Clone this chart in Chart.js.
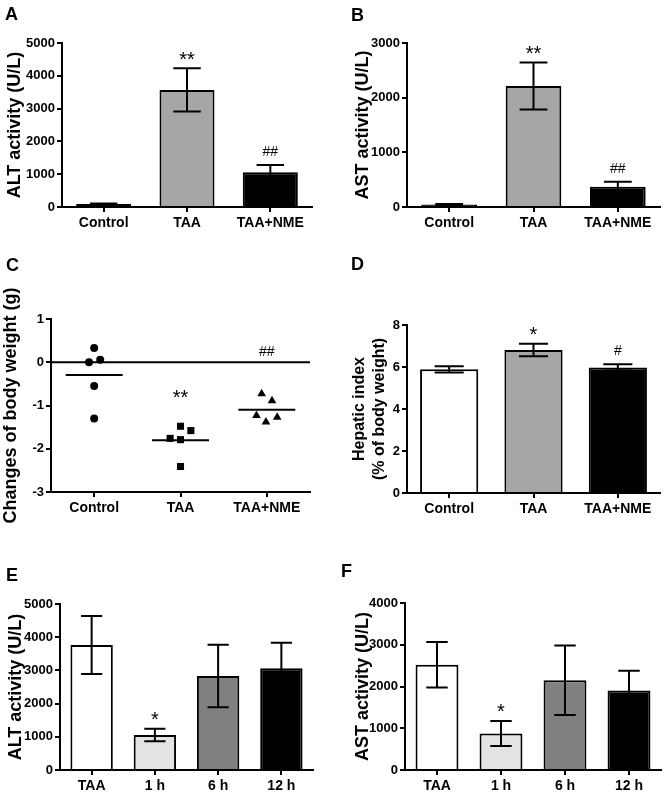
<!DOCTYPE html>
<html>
<head>
<meta charset="utf-8">
<script src="https://cdn.jsdelivr.net/npm/chart.js@4.4.1/dist/chart.umd.min.js"></script>
<style>
  body { margin: 0; background: #fff; width: 670px; height: 793px; position: relative; overflow: hidden; }
  canvas { position: absolute; }
  .tag { position: absolute; font: bold 18px "Liberation Sans", Arial, sans-serif; line-height: 18px; color: #000; }
</style>
</head>
<body>
<canvas id="cA" width="335" height="265" style="left:0;top:0"></canvas>
<canvas id="cB" width="335" height="265" style="left:335px;top:0"></canvas>
<canvas id="cC" width="335" height="265" style="left:0;top:265px"></canvas>
<canvas id="cD" width="335" height="265" style="left:335px;top:265px"></canvas>
<canvas id="cE" width="335" height="263" style="left:0;top:530px"></canvas>
<canvas id="cF" width="335" height="263" style="left:335px;top:530px"></canvas>
<div class="tag" style="left:5px;top:5px">A</div>
<div class="tag" style="left:351px;top:6px">B</div>
<div class="tag" style="left:6px;top:256px">C</div>
<div class="tag" style="left:351px;top:255px">D</div>
<div class="tag" style="left:6px;top:566px">E</div>
<div class="tag" style="left:341px;top:562px">F</div>
<script>
// ---- data ----
const groups = ['Control', 'TAA', 'TAA+NME'];
const times = ['TAA', '1 h', '6 h', '12 h'];

const altMean = [90, 3570, 1057];
const altSem  = [20, 660, 225];
const altSig  = ['', '**', '##'];

const astMean = [45, 2215, 371];
const astSem  = [10, 430, 92];
const astSig  = ['', '**', '##'];

// body weight change, one point per animal (x = group index + small jitter)
const bwControl = [{x: 1, y: 0.33}, {x: 0.94, y: 0.0}, {x: 1.07, y: 0.06}, {x: 1, y: -0.55}, {x: 1, y: -1.30}];
const bwTAA     = [{x: 2, y: -1.48}, {x: 2.12, y: -1.58}, {x: 1.88, y: -1.76}, {x: 2, y: -1.79}, {x: 2, y: -2.41}];
const bwNME     = [{x: 2.94, y: -0.73}, {x: 3.06, y: -0.89}, {x: 2.88, y: -1.23}, {x: 2.99, y: -1.38}, {x: 3.12, y: -1.27}];
const bwSig     = ['', '**', '##'];
const bwSigY    = [null, -0.71, 0.27];

const hepMean = [5.89, 6.81, 5.98];
const hepSem  = [0.15, 0.30, 0.15];
const hepSig  = ['', '*', '#'];

const altTimeMean = [3765, 1054, 2831, 3062];
const altTimeSem  = [873, 191, 938, 773];
const astTimeMean = [2520, 876, 2152, 1904];
const astTimeSem  = [544, 300, 832, 472];
const timeSig     = ['', '*', '', ''];

const FONT = '"Liberation Sans", Arial, sans-serif';
Chart.defaults.font.family = FONT;
Chart.defaults.color = '#000';

// draw a significance mark so that its glyph is centred on cy
function drawSig(ctx, s, x, cy) {
  ctx.textAlign = 'center';
  ctx.textBaseline = 'alphabetic';
  if (s.indexOf('*') >= 0) { ctx.font = '20px ' + FONT; ctx.fillText(s, x, cy + 11.5); }
  else { ctx.font = '14px ' + FONT; ctx.fillText(s, x, cy + 5); }
}

const errBars = {
  id: 'errbars',
  afterDatasetsDraw(chart, args, o) {
    if (!o || !o.sem) return;
    const ctx = chart.ctx, ys = chart.scales.y;
    const vals = chart.data.datasets[0].data;
    ctx.save();
    ctx.strokeStyle = '#000'; ctx.fillStyle = '#000'; ctx.lineWidth = 2;
    chart.getDatasetMeta(0).data.forEach((bar, i) => {
      const top = ys.getPixelForValue(vals[i] + o.sem[i]);
      const bot = ys.getPixelForValue(vals[i] - o.sem[i]);
      const half = bar.width * o.cap / 2;
      ctx.beginPath();
      ctx.moveTo(bar.x, top); ctx.lineTo(bar.x, bot);
      ctx.moveTo(bar.x - half, top); ctx.lineTo(bar.x + half, top);
      ctx.moveTo(bar.x - half, bot); ctx.lineTo(bar.x + half, bot);
      ctx.stroke();
      if (o.sig && o.sig[i]) drawSig(ctx, o.sig[i], bar.x, top - 14);
    });
    ctx.restore();
  }
};

const zeroLine = {
  id: 'zeroline',
  beforeDatasetsDraw(chart, args, o) {
    if (!o || !o.on) return;
    const {ctx, chartArea, scales} = chart;
    const y = scales.y.getPixelForValue(0);
    ctx.save();
    ctx.strokeStyle = '#000'; ctx.lineWidth = 2;
    ctx.beginPath(); ctx.moveTo(chartArea.left, y); ctx.lineTo(chartArea.right, y); ctx.stroke();
    ctx.fillStyle = '#000';
    o.sig.forEach((s, i) => {
      if (s) drawSig(ctx, s, scales.x.getPixelForValue(i + 1), scales.y.getPixelForValue(o.sigY[i]));
    });
    ctx.restore();
  }
};
Chart.register(errBars, zeroLine);

function axisY(min, max, step, title, width, pad, size, lh) {
  return {
    min, max,
    ticks: { stepSize: step, padding: 2, font: { size: 13, weight: 'bold' }, color: '#000', callback: v => String(v) },
    grid: { display: true, drawOnChartArea: false, drawTicks: true, tickLength: 5, color: '#000', lineWidth: 2 },
    border: { display: true, color: '#000', width: 2 },
    title: { display: true, text: title, color: '#000',
             font: { size: size || 18, weight: 'bold', lineHeight: lh || 1.2 }, padding: { top: pad, bottom: 0 } },
    afterFit: s => { s.width = width; }
  };
}

function axisX(height) {
  return {
    ticks: { padding: 3, font: { size: 14, weight: 'bold' }, color: '#000', maxRotation: 0, autoSkip: false },
    grid: { display: true, offset: false, drawOnChartArea: false, drawTicks: true, tickLength: 5, color: '#000', lineWidth: 2 },
    border: { display: true, color: '#000', width: 2 },
    afterFit: s => { s.height = height; }
  };
}

function barChart(id, labels, mean, sem, sig, colors, pct, y, pad, xh) {
  return new Chart(document.getElementById(id), {
    type: 'bar',
    data: { labels, datasets: [{ data: mean, backgroundColor: colors, borderColor: '#000', borderWidth: 2,
                                 borderSkipped: 'start', barPercentage: 1, categoryPercentage: pct }] },
    options: {
      responsive: false, animation: false, events: [],
      layout: { padding: pad },
      plugins: { legend: { display: false }, tooltip: { enabled: false }, errbars: { sem, sig, cap: 0.5 } },
      scales: { x: axisX(xh), y }
    }
  });
}

const grey3 = ['#ffffff', '#a6a6a6', '#000000'];
const dark3 = ['#000000', '#a6a6a6', '#000000'];
const grey4 = ['#ffffff', '#e3e3e3', '#808080', '#000000'];

barChart('cA', groups, altMean, altSem, altSig, dark3, 0.66,
  axisY(0, 5000, 1000, 'ALT activity (U/L)', 62, 4), { left: 0, top: 43, right: 23, bottom: 0 }, 58);
barChart('cB', groups, astMean, astSem, astSig, dark3, 0.66,
  axisY(0, 3000, 1000, 'AST activity (U/L)', 72, 17), { left: 0, top: 43, right: 10, bottom: 0 }, 58);
barChart('cD', groups, hepMean, hepSem, hepSig, grey3, 0.69,
  axisY(0, 8, 2, ['Hepatic index', '(% of body weight)'], 72, 15, 16, 1.25), { left: 0, top: 60, right: 10, bottom: 0 }, 37);
barChart('cE', times, altTimeMean, altTimeSem, timeSig, grey4, 0.67,
  axisY(0, 5000, 1000, 'ALT activity (U/L)', 60, 5), { left: 0, top: 74, right: 22, bottom: 0 }, 23);
barChart('cF', times, astTimeMean, astTimeSem, timeSig, grey4, 0.67,
  axisY(0, 4000, 1000, 'AST activity (U/L)', 70, 17), { left: 0, top: 73, right: 9, bottom: 0 }, 23);

// panel C: dot plot with group means
const mean = pts => pts.reduce((a, p) => a + p.y, 0) / pts.length;
const meanLine = (pts, g) => ({ type: 'line', data: [{ x: g - 0.33, y: mean(pts) }, { x: g + 0.33, y: mean(pts) }],
  borderColor: '#000', borderWidth: 2, pointRadius: 0, showLine: true, fill: false });
const xC = axisX(38);
xC.type = 'linear'; xC.min = 0.5; xC.max = 3.5;
xC.afterBuildTicks = s => { s.ticks = [1, 2, 3].map(v => ({ value: v })); };
xC.ticks.callback = (v) => groups[Math.round(v) - 1];

new Chart(document.getElementById('cC'), {
  type: 'scatter',
  data: { datasets: [
    { data: bwControl, pointStyle: 'circle', pointRadius: 4, backgroundColor: '#000', borderColor: '#000', borderWidth: 0 },
    { data: bwTAA, pointStyle: 'rect', pointRadius: 5, backgroundColor: '#000', borderColor: '#000', borderWidth: 0 },
    { data: bwNME, pointStyle: 'triangle', pointRadius: 5, backgroundColor: '#000', borderColor: '#000', borderWidth: 0 },
    meanLine(bwControl, 1), meanLine(bwTAA, 2), meanLine(bwNME, 3)
  ] },
  options: {
    responsive: false, animation: false, events: [],
    layout: { padding: { left: 0, top: 54, right: 25, bottom: 0 } },
    plugins: { legend: { display: false }, tooltip: { enabled: false }, zeroline: { on: true, sig: bwSig, sigY: bwSigY } },
    scales: { x: xC, y: axisY(-3, 1, 1, 'Changes of body weight (g)', 51, 0) }
  }
});
</script>
</body>
</html>
